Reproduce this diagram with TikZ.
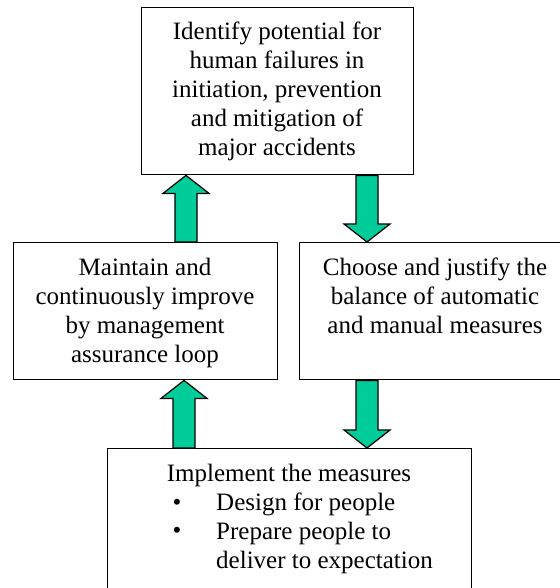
\documentclass[tikz,border=0pt]{standalone}
\usepackage{fontspec}
\setmainfont{Liberation Serif}
\usetikzlibrary{calc}
\definecolor{arrowgreen}{RGB}{0,204,153}
\tikzset{
  box/.style={draw=black, line width=1.4pt, rectangle, inner sep=0pt, anchor=north west},
  txt/.style={inner sep=0pt, align=center, font=\fontsize{25}{29}\selectfont},
  ltxt/.style={inner sep=0pt, align=left, font=\fontsize{25}{29}\selectfont},
  barrow/.style={draw=black, line width=1.2pt, fill=arrowgreen, line join=miter}
}
\newcommand\blockarr[2]{%
  \coordinate (hb) at ($(#2)!18pt!(#1)$);
  \draw[barrow] ($(#1)!11pt!90:(#2)$) -- ($(hb)!11pt!90:(#2)$) -- ($(hb)!23pt!90:(#2)$)
     -- (#2) -- ($(hb)!23pt!-90:(#2)$) -- ($(hb)!11pt!-90:(#2)$) -- ($(#1)!11pt!-90:(#2)$) -- cycle;
}
\begin{document}
\begin{tikzpicture}[x=1pt,y=-1pt]
\useasboundingbox (0,0) rectangle (559,588);
% boxes
\node[box, minimum width=272pt, minimum height=167pt] (top) at (141,7) {};
\node[box, minimum width=264pt, minimum height=137pt] (left) at (13,242) {};
\node[box, minimum width=272pt, minimum height=137pt] (right) at (299,242) {};
\node[box, minimum width=364pt, minimum height=160pt] (bottom) at (107,448) {};
% texts
\node[txt, anchor=north] (ttop) at (277,{39-20.3}) {\strut Identify potential for\\human failures in\\initiation, prevention\\and mitigation of\\major accidents};
\node[txt, anchor=north] (tleft) at (145,{275-20.3}) {\strut Maintain and\\continuously improve\\by management\\assurance loop};
\node[txt, anchor=north] (tright) at (435,{275-20.3}) {\strut Choose and justify the\\balance of automatic\\and manual measures};
\node[txt, anchor=north] (tbot) at (289,{481-20.3}) {\strut Implement the measures};
\node[ltxt, anchor=north west] (tlist) at (216,{510-20.3}) {\strut Design for people\\Prepare people to\\deliver to expectation};
\node[txt, anchor=base] (b1) at (177,510) {•};
\node[txt, anchor=base] (b2) at (177,538) {•};
% arrows
\coordinate (a1s) at (186,0 |- left.north);
\coordinate (a1e) at (186,0 |- top.south);
\coordinate (a2s) at (367,0 |- top.south);
\coordinate (a2e) at (367,0 |- right.north);
\coordinate (a3s) at (184,0 |- bottom.north);
\coordinate (a3e) at (184,0 |- left.south);
\coordinate (a4s) at (367,0 |- right.south);
\coordinate (a4e) at (367,0 |- bottom.north);
\blockarr{a1s}{a1e}
\blockarr{a2s}{a2e}
\blockarr{a3s}{a3e}
\blockarr{a4s}{a4e}
\end{tikzpicture}
\end{document}
